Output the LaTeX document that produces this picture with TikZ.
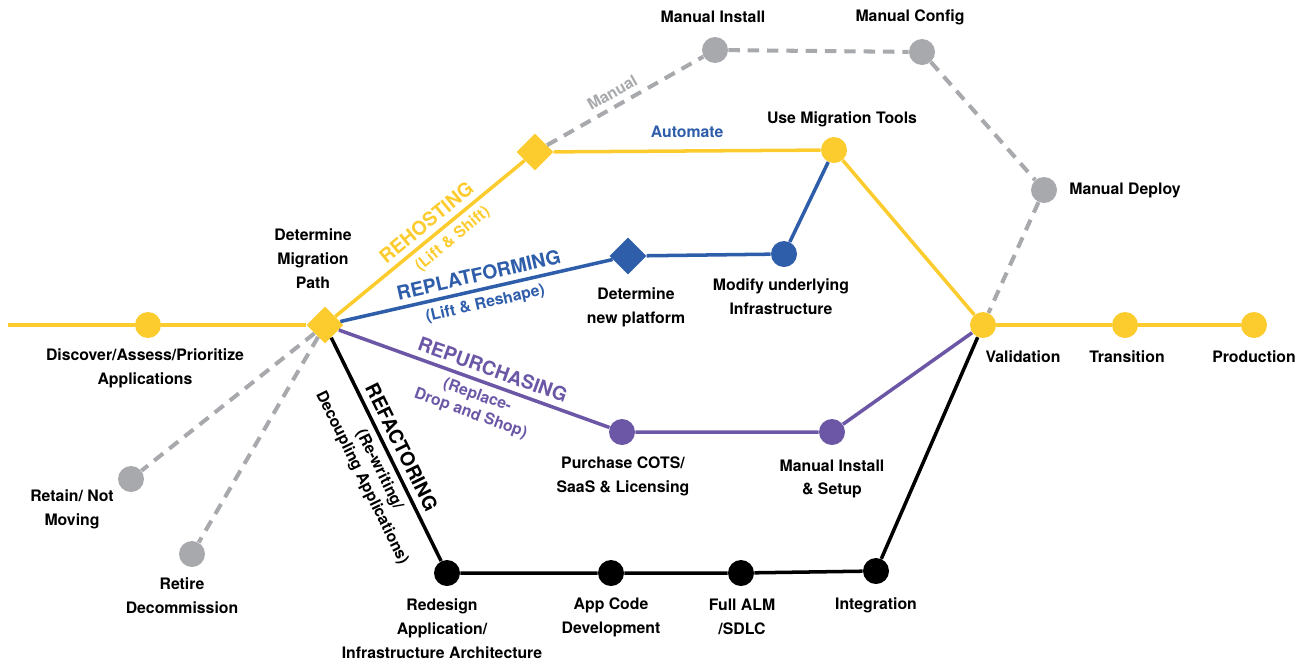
\documentclass[tikz,border=0pt]{standalone}
\usepackage{fontspec}
\setmainfont{TeX Gyre Heros}
\usetikzlibrary{shapes.geometric}
\definecolor{railyellow}{RGB}{252,204,47}
\definecolor{railblue}{RGB}{46,93,170}
\definecolor{railpurple}{RGB}{107,87,166}
\definecolor{railgray}{RGB}{167,169,172}

\begin{document}
\begin{tikzpicture}[x=0.02cm,y=-0.02cm,
  stop/.style={circle,minimum size=0.52cm,inner sep=0pt},
  junction/.style={diamond,minimum size=0.74cm,inner sep=0pt},
  lbl/.style={align=center,font=\bfseries\fontsize{9}{13.6}\selectfont},
  title/.style={sloped,font=\bfseries\fontsize{11}{12}\selectfont},
  sub/.style={sloped,align=center,font=\bfseries\fontsize{9}{11}\selectfont},
  track/.style={line width=2pt},
  manual/.style={line width=2.3pt,railgray,dash pattern=on 6.5pt off 4.5pt}]
\useasboundingbox (0,0) rectangle (1309,664);
%%%%%%%%%%%%%%%% stops
\coordinate (start) at (8,325);
\node[stop,fill=railyellow] (discover) at (148,325) {};
\node[junction,fill=railyellow] (path) at (325,325) {};
\node[junction,fill=railyellow] (rehost) at (535,152) {};
\node[stop,fill=railgray] (minstall) at (715,50) {};
\node[stop,fill=railgray] (mconfig) at (922,52) {};
\node[stop,fill=railgray] (mdeploy) at (1044,190) {};
\node[stop,fill=railyellow] (tools) at (834,150) {};
\node[junction,fill=railblue] (platform) at (628,256) {};
\node[stop,fill=railblue] (modify) at (784,254) {};
\node[stop,fill=railyellow] (valid) at (983,325) {};
\node[stop,fill=railyellow] (trans) at (1125,325) {};
\node[stop,fill=railyellow] (prod) at (1254,325) {};
\node[stop,fill=railpurple] (cots) at (622,432) {};
\node[stop,fill=railpurple] (setup) at (832,432) {};
\node[stop,fill=black] (redesign) at (447,573) {};
\node[stop,fill=black] (appcode) at (611,573) {};
\node[stop,fill=black] (alm) at (741,573) {};
\node[stop,fill=black] (integ) at (876,571) {};
\node[stop,fill=railgray] (retain) at (131,479) {};
\node[stop,fill=railgray] (retire) at (192,554) {};
%%%%%%%%%%%%%%%% rehosting
\draw[track,railyellow] (start) -- (discover) -- (path);
\draw[track,railyellow] (path) -- node[title,above,pos=0.53]{REHOSTING}
  node[sub,below,pos=0.57]{(Lift \& Shift)} (rehost);
\draw[track,railyellow] (rehost) -- node[pos=0.5,above=3pt,lbl,text=railblue]{Automate} (tools);
\draw[track,railyellow] (tools) -- (valid);
\draw[track,railyellow] (valid) -- (trans) -- (prod);
%%%%%%%%%%%%%%%% manual
\draw[manual] (rehost) -- node[sub,above,pos=0.46,text=railgray]{Manual} (minstall);
\draw[manual] (minstall) -- (mconfig) -- (mdeploy) -- (valid);
\draw[manual] (path) -- (retain);
\draw[manual] (path) -- (retire);
%%%%%%%%%%%%%%%% replatforming
\draw[track,railblue] (path) -- node[title,above,pos=0.52,text=railblue]{REPLATFORMING}
  node[sub,below,pos=0.52,text=railblue]{(Lift \& Reshape)} (platform);
\draw[track,railblue] (platform) -- (modify) -- (tools);
%%%%%%%%%%%%%%%% repurchasing
\draw[track,railpurple] (path) -- node[title,above,pos=0.55,text=railpurple]{REPURCHASING}
  node[sub,below,pos=0.53,text=railpurple]{(Replace-\\Drop and Shop)} (cots);
\draw[track,railpurple] (cots) -- (setup) -- (valid);
%%%%%%%%%%%%%%%% refactoring
\draw[track,black] (path) -- node[title,above,pos=0.52]{REFACTORING}
  node[sub,below,pos=0.56]{(Re-writing/\\Decoupling Applications)} (redesign);
\draw[track,black] (redesign) -- (appcode) -- (alm) -- (integ) -- (valid);
%%%%%%%%%%%%%%%% labels
\node[lbl] (tdiscover) at (145,368) {Discover/Assess/Prioritize\\Applications};
\node[lbl] (tpath) at (313,259) {Determine\\Migration\\Path};
\node[lbl] (tminstall) at (713,17) {Manual Install};
\node[lbl] (tmconfig) at (910,17) {Manual Config};
\node[lbl] (ttools) at (842,119) {Use Migration Tools};
\node[lbl] (tmdeploy) at (1125,190) {Manual Deploy};
\node[lbl] (tplatform) at (636,307) {Determine\\new platform};
\node[lbl] (tmodify) at (781,297) {Modify underlying\\Infrastructure};
\node[lbl] (tvalid) at (1023,357) {Validation};
\node[lbl] (ttrans) at (1127,357) {Transition};
\node[lbl] (tprod) at (1254,357) {Production};
\node[lbl] (tcots) at (623,476) {Purchase COTS/\\SaaS \& Licensing};
\node[lbl] (tsetup) at (832,479) {Manual Install\\\& Setup};
\node[lbl] (tretain) at (72,509) {Retain/ Not\\Moving};
\node[lbl] (tretire) at (182,596) {Retire\\Decommission};
\node[lbl] (tredesign) at (442,629) {Redesign\\Application/\\Infrastructure Architecture};
\node[lbl] (tappcode) at (611,617) {App Code\\Development};
\node[lbl] (talm) at (742,617) {Full ALM\\/SDLC};
\node[lbl] (tinteg) at (876,605) {Integration};
\end{tikzpicture}
\end{document}
